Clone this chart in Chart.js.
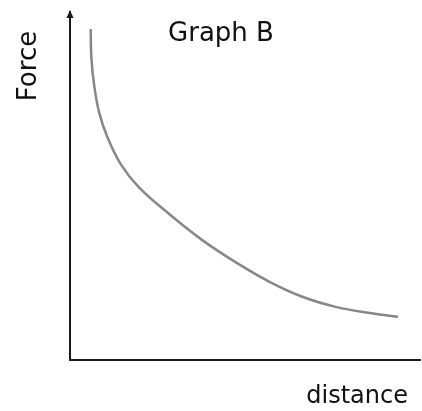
<!DOCTYPE html>
<html>
<head>
<meta charset="utf-8">
<script src="https://cdn.jsdelivr.net/npm/chart.js@4.4.1/dist/chart.umd.min.js"></script>
<style>
  body { margin: 0; background: #fff; }
</style>
</head>
<body>
<canvas id="graphB" width="422" height="411"></canvas>
<script>
// values (0..100 on both axes)
var distance = [5.91, 6.09, 6.86, 8.29, 10.66, 14.49, 19.71, 28.77, 38.0, 47.63, 57.14, 66.57, 76.2, 85.71, 93.71];
var force    = [95.1, 87.1, 79.3, 71.3, 64.1, 56.3, 49.6, 41.6, 34.3, 27.9, 22.4, 18.1, 15.2, 13.5, 12.4];

var titleText = 'Graph B';
var xLabel = 'distance';
var yLabel = 'Force';

var fontFam = '"DejaVu Sans", Verdana, sans-serif';

var pts = [];
for (var i = 0; i < distance.length; i++) {
  pts.push({ x: distance[i], y: force[i] });
}

// arrow head on the y axis + the free-standing labels
var labelsPlugin = {
  id: 'labelsB',
  afterDraw: function (chart) {
    var ctx = chart.ctx;
    var area = chart.chartArea;
    ctx.save();
    ctx.fillStyle = '#1a1a1a';
    ctx.beginPath();
    ctx.moveTo(area.left, area.top - 2);
    ctx.lineTo(area.left - 3.5, area.top + 6);
    ctx.lineTo(area.left + 3.5, area.top + 6);
    ctx.closePath();
    ctx.fill();

    ctx.fillStyle = '#111';
    ctx.textBaseline = 'alphabetic';
    ctx.font = '26px ' + fontFam;
    ctx.textAlign = 'center';
    ctx.fillText(titleText, 221, 41);

    ctx.font = '24px ' + fontFam;
    ctx.textAlign = 'right';
    ctx.fillText(xLabel, 408, 403);

    ctx.font = '26px ' + fontFam;
    ctx.translate(36, 66);
    ctx.rotate(-Math.PI / 2);
    ctx.textAlign = 'center';
    ctx.fillText(yLabel, 0, 0);
    ctx.restore();
  }
};

var config = {
  type: 'scatter',
  data: {
    datasets: [{
      data: pts,
      showLine: true,
      tension: 0.4,
      borderColor: '#878787',
      borderWidth: 2.5,
      pointRadius: 0,
      fill: false
    }]
  },
  options: {
    responsive: false,
    animation: false,
    layout: { padding: { left: 70, top: 12, right: 2, bottom: 51 } },
    plugins: {
      legend: { display: false },
      tooltip: { enabled: false }
    },
    scales: {
      x: {
        type: 'linear',
        min: 0,
        max: 100,
        ticks: { display: false },
        grid: { display: false },
        border: { display: true, color: '#1a1a1a', width: 2 },
        afterFit: function (s) { s.height = 0; }
      },
      y: {
        type: 'linear',
        min: 0,
        max: 100,
        ticks: { display: false },
        grid: { display: false },
        border: { display: true, color: '#1a1a1a', width: 2 },
        afterFit: function (s) { s.width = 0; }
      }
    }
  },
  plugins: [labelsPlugin]
};

new Chart(document.getElementById('graphB'), config);
</script>
</body>
</html>
